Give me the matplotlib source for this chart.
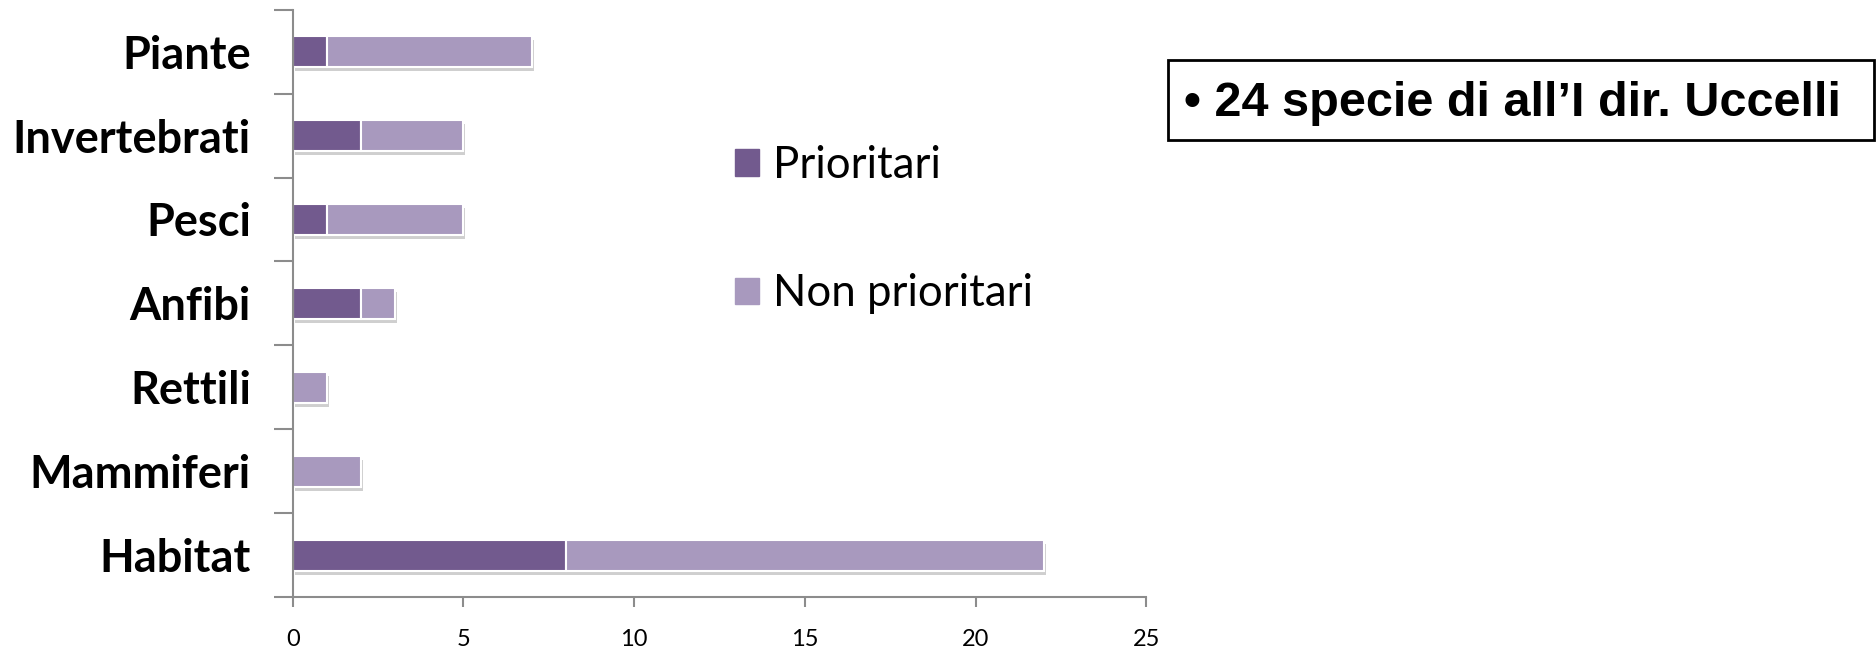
import matplotlib.pyplot as plt
import matplotlib.patches as patches
import matplotlib.patheffects as pe
import numpy as np

categories = ["Habitat", "Mammiferi", "Rettili", "Anfibi", "Pesci", "Invertebrati", "Piante"]
prioritari = [8, 0, 0, 2, 1, 2, 1]
non_prioritari = [14, 2, 1, 1, 4, 3, 6]
x_ticks = [0, 5, 10, 15, 20, 25]
note = "\u2022 24 specie di all\u2019I dir. Uccelli"

dark = "#725A8E"
light = "#A899BE"
axis_grey = "#8C8C8C"

fig = plt.figure(figsize=(18.76, 6.51), dpi=100)
ax = fig.add_axes([0.156, 0.083, 0.455, 0.902])

y = np.arange(len(categories))
shadow = [pe.SimplePatchShadow(offset=(1.5, -3), shadow_rgbFace="#888888", alpha=0.4), pe.Normal()]

b1 = ax.barh(y, prioritari, height=0.37, color=dark, edgecolor="white", linewidth=1.5)
b2 = ax.barh(y, non_prioritari, left=prioritari, height=0.37, color=light, edgecolor="white",
             linewidth=1.5)
for bar in list(b1) + list(b2):
    if bar.get_width() > 0:
        bar.set_path_effects(shadow)
    else:
        bar.set_visible(False)

ax.set_xlim(0, 25)
ax.set_ylim(-0.5, len(categories) - 0.5)

ax.set_xticks(x_ticks)
ax.set_xticklabels([str(t) for t in x_ticks], fontsize=17, family="Lato")
ax.set_yticks(np.arange(len(categories) + 1) - 0.5)
ax.set_yticklabels([])
ax.set_yticks(y, minor=True)
ax.set_yticklabels(categories, minor=True, fontsize=32.5, fontweight="bold", family="Lato")
ax.tick_params(axis="y", which="minor", length=0, pad=30)
ax.tick_params(axis="y", which="major", length=14, color=axis_grey, width=1.5)
ax.tick_params(axis="x", length=7, color=axis_grey, width=1.5, pad=16)

for s in ["top", "right"]:
    ax.spines[s].set_visible(False)
for s in ["left", "bottom"]:
    ax.spines[s].set_color(axis_grey)
    ax.spines[s].set_linewidth(1.5)

handles = [patches.Patch(color=dark, label="Prioritari"),
           patches.Patch(color=light, label="Non prioritari")]
fig.legend(handles=handles, loc="upper left", bbox_to_anchor=(0.371, 0.838),
           frameon=False, prop={"family": "Lato", "size": 31.5},
           handlelength=0.55, handleheight=0.55, handletextpad=0.3, labelspacing=2.0)

box = patches.Rectangle((1168 / 1876, 1 - 140 / 651), 706 / 1876, 80 / 651,
                        transform=fig.transFigure, facecolor="white", edgecolor="black",
                        linewidth=2)
fig.patches.append(box)
fig.text(1184 / 1876, 1 - 103 / 651, note, fontsize=35, fontweight="bold",
         family="Liberation Sans", va="center", ha="left")

fig.savefig("out.png", dpi=100)
